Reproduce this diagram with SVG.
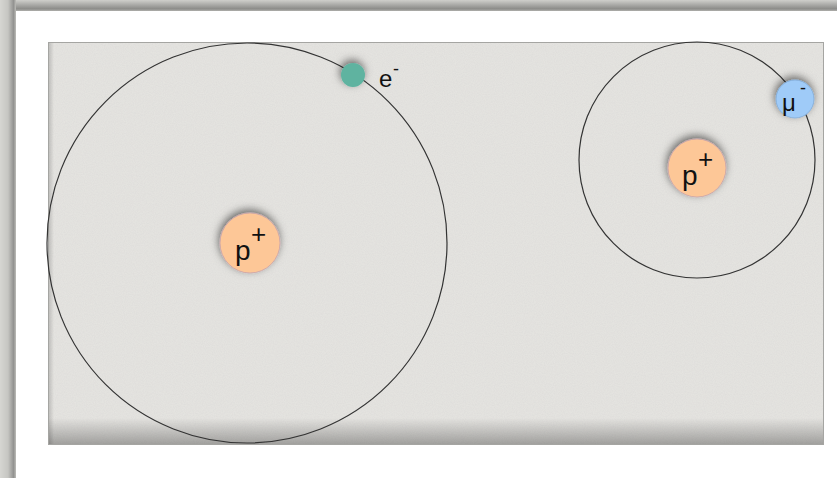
<svg xmlns="http://www.w3.org/2000/svg" width="837" height="478" viewBox="0 0 837 478">
<defs>
<filter id="noise" x="0" y="0" width="100%" height="100%">
<feTurbulence type="fractalNoise" baseFrequency="0.9" numOctaves="2" seed="3" result="t"/>
<feColorMatrix in="t" type="matrix" values="0 0 0 0 0.55  0 0 0 0 0.55  0 0 0 0 0.53  0 0 0 0.25 0" result="n"/>
<feComposite in="n" in2="SourceGraphic" operator="in" result="nn"/>
<feMerge><feMergeNode in="SourceGraphic"/><feMergeNode in="nn"/></feMerge>
</filter>
<filter id="shadow" x="-50%" y="-50%" width="200%" height="200%">
<feGaussianBlur in="SourceAlpha" stdDeviation="4"/>
<feOffset dx="-1" dy="-3" result="b"/>
<feFlood flood-color="#000" flood-opacity="0.55"/>
<feComposite in2="b" operator="in" result="s"/>
<feMerge><feMergeNode in="s"/><feMergeNode in="SourceGraphic"/></feMerge>
</filter>
<linearGradient id="leftStrip" x1="0" x2="1" y1="0" y2="0">
<stop offset="0" stop-color="#d6d6d2"/>
<stop offset="0.5" stop-color="#c6c6c2"/>
<stop offset="0.85" stop-color="#929290"/>
<stop offset="1" stop-color="#bdbdb9"/>
</linearGradient>
<linearGradient id="topStrip" x1="0" x2="0" y1="0" y2="1">
<stop offset="0" stop-color="#cfcfcb"/>
<stop offset="0.8" stop-color="#8c8c89"/>
<stop offset="1" stop-color="#b0b0ad"/>
</linearGradient>
<linearGradient id="bottomShade" x1="0" x2="0" y1="0" y2="1">
<stop offset="0" stop-color="#000" stop-opacity="0"/>
<stop offset="1" stop-color="#000" stop-opacity="0.3"/>
</linearGradient>
<linearGradient id="leftShade" x1="0" x2="1" y1="0" y2="0">
<stop offset="0" stop-color="#000" stop-opacity="0.18"/>
<stop offset="1" stop-color="#000" stop-opacity="0"/>
</linearGradient>
</defs>
<style>
.orbit{fill:none;stroke:#333;stroke-width:1.2}
.proton{fill:#fdc797;stroke:#c9a2a8;stroke-width:0.8}
.lbl{font-family:"Liberation Sans",Arial,sans-serif;fill:#111}
</style>
<rect x="0" y="0" width="837" height="478" fill="#ffffff"/>
<rect x="0" y="0" width="837" height="11" fill="url(#topStrip)"/>
<rect x="0" y="0" width="16" height="478" fill="url(#leftStrip)"/>
<g id="board">
<rect x="48" y="42" width="776" height="403" fill="#e6e5e2" filter="url(#noise)"/>
<rect x="48" y="418" width="776" height="27" fill="url(#bottomShade)"/>
<rect x="48" y="42" width="6" height="403" fill="url(#leftShade)"/>
<rect x="48.5" y="42.5" width="775" height="402" fill="none" stroke="#a5a5a2" stroke-width="1"/>
</g>
<g id="connectors">
<circle class="orbit" cx="247" cy="243" r="200"/>
<circle class="orbit" cx="697" cy="160" r="118"/>
</g>
<g id="proton1">
<circle class="proton" cx="250" cy="243" r="30" filter="url(#shadow)"/>
<text class="lbl" x="235" y="260" font-size="28">p</text>
<text class="lbl" x="251" y="243" font-size="26">+</text>
</g>
<g id="proton2">
<circle class="proton" cx="697" cy="168" r="29" filter="url(#shadow)"/>
<text class="lbl" x="682" y="185" font-size="28">p</text>
<text class="lbl" x="698" y="168" font-size="26">+</text>
</g>
<g id="electron">
<circle cx="353" cy="75" r="12" fill="#5fb3a0" filter="url(#shadow)"/>
<text class="lbl" x="379" y="87" font-size="24">e</text>
<text class="lbl" x="393" y="75" font-size="18">-</text>
</g>
<g id="muon">
<circle cx="795" cy="99" r="19" fill="#9fcbf8" stroke="#7ea9d8" stroke-width="0.8" filter="url(#shadow)"/>
<text class="lbl" x="782" y="111" font-size="24">μ</text>
<text class="lbl" x="800" y="94" font-size="18">-</text>
</g>
</svg>
